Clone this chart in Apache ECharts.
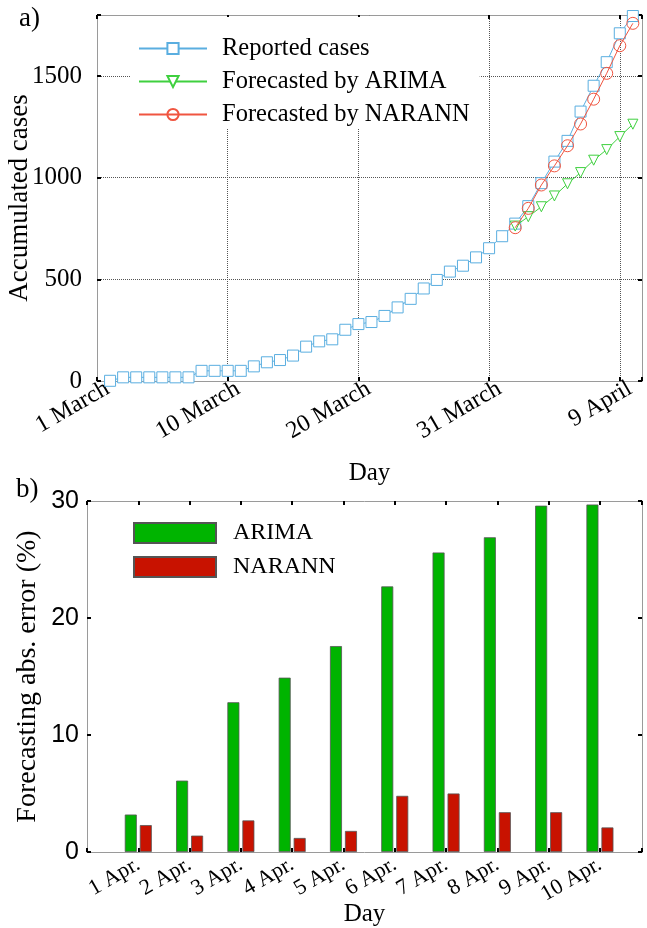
<!DOCTYPE html>
<html><head><meta charset="utf-8">
<script src="https://cdn.jsdelivr.net/npm/echarts@6/dist/echarts.min.js"></script>
<style>html,body{margin:0;padding:0;background:#fff}#c{width:647px;height:928px}</style>
</head><body><div id="c"></div>
<script>
// ---- data (panel a) ----
const days = [1,2,3,4,5,6,7,8,9,10,11,12,13,14,15,16,17,18,19,20,21,22,23,24,25,26,27,28,29,30,31,32,33,34,35,36,37,38,39,40,41];
const reported = [1,18,18,18,18,18,18,50,50,50,50,72,92,103,125,169,195,205,252,280,290,320,362,404,455,497,538,567,608,653,712,774,860,973,1079,1181,1325,1452,1568,1710,1795];
const forecastDays = [32,33,34,35,36,37,38,39,40,41];
const arimaForecast = [762,808,857,910,970,1025,1086,1138,1202,1263];
const narannForecast = [754,849,964,1058,1157,1264,1386,1513,1649,1759];
const dayTickLabels = {0:'1 March',10:'10 March',20:'20 March',30:'31 March',40:'9 April'};
const caseTicks = [0,500,1000,1500];
// ---- data (panel b) ----
const errCategories = ['1 Apr.','2 Apr.','3 Apr.','4 Apr.','5 Apr.','6 Apr.','7 Apr.','8 Apr.','9 Apr.','10 Apr.'];
const arimaError = [3.2,6.1,12.8,14.9,17.6,22.7,25.6,26.9,29.6,29.7];
const narannError = [2.3,1.4,2.7,1.2,1.8,4.8,5.0,3.4,3.4,2.1];

const SERIF = 'Liberation Serif';
const SANS = 'Liberation Sans';
const borderCol = '#9a9a9a';
const tick = {show:true, inside:true, length:4, lineStyle:{color:'#000', width:2}};
const line = {show:true, onZero:false, lineStyle:{color:borderCol, width:1}};
const dotted = {show:true, lineStyle:{type:'dotted', color:'#555', width:1}};

const chart = echarts.init(document.getElementById('c'), null, {renderer:'canvas'});
chart.setOption({
  backgroundColor:'#fff',
  animation:false,
  grid:[
    {left:97, right:5, top:15, height:366, outerBoundsMode:'none', containLabel:false},
    {left:87, right:5, top:501, height:351, outerBoundsMode:'none', containLabel:false}
  ],
  xAxis:[
    {gridIndex:0, type:'value', min:0, max:41.7, interval:10, position:'bottom',
     axisLine:line, axisTick:tick, splitLine:dotted,
     axisLabel:{rotate:30, fontFamily:SERIF, fontSize:24, color:'#000', margin:12, padding:[0,-12,0,0],
       formatter:v=> (dayTickLabels[v] !== undefined ? dayTickLabels[v] : '')},
     name:'Day', nameLocation:'middle', nameGap:80, nameMoveOverlap:false,
     nameTextStyle:{fontFamily:SERIF, fontSize:25, color:'#000'}},
    {gridIndex:0, type:'value', min:0, max:41.7, interval:10, position:'top',
     axisLine:line, axisTick:tick, splitLine:{show:false}, axisLabel:{show:false}},
    {gridIndex:1, type:'value', min:0, max:10.82, interval:1, position:'bottom',
     axisLine:line, axisTick:tick, splitLine:{show:false},
     axisLabel:{rotate:30, fontFamily:SERIF, fontSize:22, color:'#000', margin:11,
       formatter:v=> (Number.isInteger(v) && v>=1 && v<=errCategories.length ? errCategories[v-1] : '')},
     name:'Day', nameLocation:'middle', nameGap:50, nameMoveOverlap:false,
     nameTextStyle:{fontFamily:SERIF, fontSize:25, color:'#000'}},
    {gridIndex:1, type:'value', min:0, max:10.82, interval:1, position:'top',
     axisLine:line, axisTick:tick, splitLine:{show:false}, axisLabel:{show:false}}
  ],
  yAxis:[
    {gridIndex:0, type:'value', min:0, max:1800, interval:500, position:'left',
     axisLine:line, axisTick:tick, splitLine:dotted,
     axisLabel:{fontFamily:SERIF, fontSize:25, color:'#000', margin:15,
       formatter:v=> (caseTicks.indexOf(v) >= 0 ? String(v) : '')},
     name:'Accumulated cases', nameLocation:'middle', nameGap:64, nameRotate:90, nameMoveOverlap:false,
     nameTextStyle:{fontFamily:SERIF, fontSize:27, color:'#000'}},
    {gridIndex:0, type:'value', min:0, max:1800, interval:500, position:'right',
     axisLine:line, axisTick:tick, splitLine:{show:false}, axisLabel:{show:false}},
    {gridIndex:1, type:'value', min:0, max:30, interval:10, position:'left',
     axisLine:line, axisTick:tick, splitLine:{show:false},
     axisLabel:{fontFamily:SANS, fontSize:25, color:'#000', margin:8},
     name:'Forecasting abs. error (%)', nameLocation:'middle', nameGap:45, nameRotate:90, nameMoveOverlap:false,
     nameTextStyle:{fontFamily:SERIF, fontSize:28, color:'#000'}},
    {gridIndex:1, type:'value', min:0, max:30, interval:10, position:'right',
     axisLine:line, axisTick:tick, splitLine:{show:false}, axisLabel:{show:false}}
  ],
  legend:[
    {orient:'vertical', left:130, top:17, padding:[19,10,2,8], itemGap:8,
     backgroundColor:'#fff', itemWidth:68, itemHeight:14,
     data:['Reported cases','Forecasted by ARIMA','Forecasted by NARANN'],
     textStyle:{fontFamily:SERIF, fontSize:24.5, color:'#000', padding:[0,0,0,10]}},
    {orient:'vertical', left:125, top:513, padding:8, itemGap:10,
     itemWidth:82, itemHeight:20, icon:'rect',
     data:['ARIMA','NARANN'],
     textStyle:{fontFamily:SERIF, fontSize:24, color:'#000', padding:[0,0,0,12]}}
  ],
  graphic:[
    {type:'text', left:19, top:5, style:{text:'a)', font:'27px "Liberation Serif"', fill:'#000'}},
    {type:'text', left:16, top:476, style:{text:'b)', font:'27px "Liberation Serif"', fill:'#000'}}
  ],
  series:[
    {name:'Reported cases', type:'line', xAxisIndex:0, yAxisIndex:0,
     data:days.map((d,i)=>[d, reported[i]]), symbol:'rect', symbolSize:11,
     itemStyle:{color:'#fff', borderColor:'#5aaee0', borderWidth:1},
     lineStyle:{color:'#5aaee0', width:1}, z:3},
    {name:'Forecasted by ARIMA', type:'line', xAxisIndex:0, yAxisIndex:0,
     data:forecastDays.map((d,i)=>[d, arimaForecast[i]]), symbol:'triangle', symbolRotate:180, symbolSize:10,
     itemStyle:{color:'#fff', borderColor:'#3fd03f', borderWidth:1},
     lineStyle:{color:'#3fd03f', width:1}, z:4},
    {name:'Forecasted by NARANN', type:'line', xAxisIndex:0, yAxisIndex:0,
     data:forecastDays.map((d,i)=>[d, narannForecast[i]]), symbol:'circle', symbolSize:12,
     itemStyle:{color:'rgba(255,255,255,0)', borderColor:'#f05540', borderWidth:1},
     lineStyle:{color:'#f05540', width:1}, z:5},
    {name:'ARIMA', type:'bar', xAxisIndex:2, yAxisIndex:2,
     data:errCategories.map((c,i)=>[i+1, arimaError[i]]), barWidth:12, barGap:'25%',
     itemStyle:{color:'#00b400', borderColor:'#555', borderWidth:0.8}},
    {name:'NARANN', type:'bar', xAxisIndex:2, yAxisIndex:2,
     data:errCategories.map((c,i)=>[i+1, narannError[i]]), barWidth:12, barGap:'25%',
     itemStyle:{color:'#c81200', borderColor:'#555', borderWidth:0.8}}
  ]
});
</script></body></html>
